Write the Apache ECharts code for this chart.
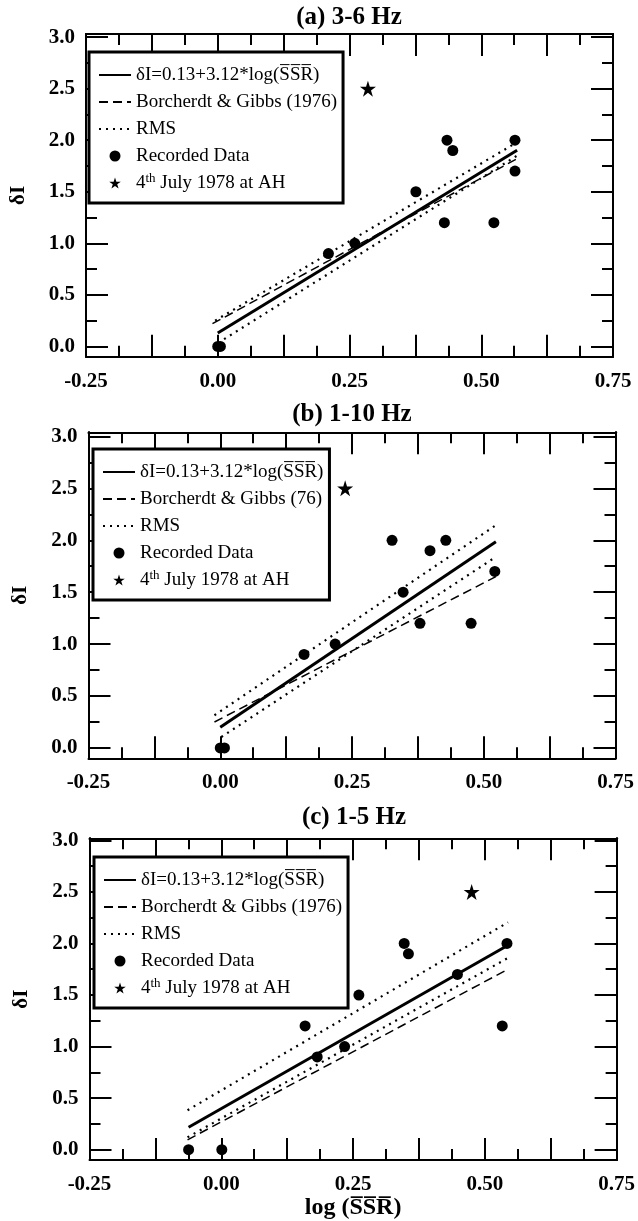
<!DOCTYPE html>
<html>
<head>
<meta charset="utf-8">
<script src="https://cdn.jsdelivr.net/npm/echarts@6/dist/echarts.min.js"></script>
<style>
  html, body { margin: 0; padding: 0; background: #fff; }
  #main { width: 638px; height: 1221px; }
</style>
</head>
<body>
<div id="main"></div>
<script>
// ---- axis ticks ----
const xTickStep = 0.125;
const yMajorTicks = [0, 0.5, 1.0, 1.5, 2.0, 2.5, 3.0];
const yMinorTicks = [0.25, 0.75, 1.25, 1.75, 2.25, 2.75];

// ---- legend / series names ----
const fitName = 'δI=0.13+3.12*log(S\u0305S\u0305R\u0305)';
const bgNameLong = 'Borcherdt & Gibbs (1976)';
const bgNameShort = 'Borcherdt & Gibbs (76)';
const rmsName = 'RMS';
const dataName = 'Recorded Data';
const starName = '4th July 1978 at AH';

// ---- panel titles ----
const titles = ['(a) 3-6 Hz', '(b) 1-10 Hz', '(c) 1-5 Hz'];

// ---- (a) 3-6 Hz ----
const recordedA = [[0, 0], [0.005, 0], [0.21, 0.9], [0.26, 1.0], [0.376, 1.5], [0.435, 2.0],
                   [0.446, 1.9], [0.43, 1.2], [0.524, 1.2], [0.564, 2.0], [0.564, 1.7]];
const starA = [[0.285, 2.5]];
const fitA = [[0, 0.13], [0.568, 0.13 + 3.12 * 0.568]];
const bgA = [[-0.01, 0.22], [0.568, 1.82]];
const rmsUpA = [[-0.005, 0.25], [0.568, 1.98]];
const rmsLoA = [[0.012, 0.07], [0.568, 1.85]];

// ---- (b) 1-10 Hz ----
const recordedB = [[0, 0], [0.008, 0], [0.159, 0.9], [0.218, 1.0], [0.326, 2.0], [0.347, 1.5],
                   [0.398, 1.9], [0.428, 2.0], [0.379, 1.2], [0.476, 1.2], [0.521, 1.7]];
const starB = [[0.237, 2.5]];
const fitB = [[0, 0.2], [0.523, 1.985]];
const bgB = [[-0.011, 0.25], [0.523, 1.65]];
const rmsUpB = [[-0.011, 0.315], [0.523, 2.145]];
const rmsLoB = [[0.002, 0.105], [0.523, 1.84]];

// ---- (c) 1-5 Hz ----
const recordedC = [[-0.062, 0], [0.001, 0], [0.159, 1.2], [0.182, 0.9], [0.234, 1.0], [0.261, 1.5],
                   [0.347, 2.0], [0.355, 1.9], [0.448, 1.7], [0.533, 1.2], [0.542, 2.0]];
const starC = [[0.475, 2.5]];
const fitC = [[-0.062, 0.217], [0.543, 1.98]];
const bgC = [[-0.064, 0.096], [0.544, 1.75]];
const rmsUpC = [[-0.064, 0.383], [0.544, 2.205]];
const rmsLoC = [[-0.064, 0.12], [0.544, 1.86]];

const panels = [
  { recorded: recordedA, star: starA, fit: fitA, bg: bgA, up: rmsUpA, lo: rmsLoA, bgName: bgNameLong },
  { recorded: recordedB, star: starB, fit: fitB, bg: bgB, up: rmsUpB, lo: rmsLoB, bgName: bgNameShort },
  { recorded: recordedC, star: starC, fit: fitC, bg: bgC, up: rmsUpC, lo: rmsLoC, bgName: bgNameLong }
];

// plot boxes
const grids = [
  { left: 85.5, top: 34, width: 527.5, height: 322.7, yMin: -0.1, yMax: 3.03 },
  { left: 88.5, top: 432.3, width: 527, height: 326, yMin: -0.1, yMax: 3.04 },
  { left: 89.5, top: 838.3, width: 528.5, height: 321.7, yMin: -0.1, yMax: 3.02 }
];
const legendPos = [{ left: 89, top: 52 }, { left: 93, top: 449 }, { left: 94, top: 857 }];
const titlePos = [{ x: 349, y: 18 }, { x: 352, y: 415 }, { x: 354, y: 818 }];

const SERIF = '"Liberation Serif", "Times New Roman", serif';
const black = '#000';
const starPath = 'path://M50,0 L61.2,34.5 L97.6,34.5 L68.2,55.9 L79.4,90.5 L50,69.1 L20.6,90.5 L31.8,55.9 L2.4,34.5 L38.8,34.5 Z';

function tickLabelStyle() {
  return { fontFamily: SERIF, fontWeight: 'bold', fontSize: 21, color: black };
}
function blackLine(width) { return { color: black, width: width }; }

function xAxisOption(gi, position) {
  const opt = {
    type: 'value', gridIndex: gi, position: position,
    min: -0.25, max: 0.75, interval: xTickStep,
    splitLine: { show: false },
    axisLine: { show: true, onZero: false, lineStyle: blackLine(2) },
    axisTick: { show: true, inside: true, length: 22, lineStyle: blackLine(2) },
    minorTick: { show: true, splitNumber: 2, length: 11, lineStyle: blackLine(2) }
  };
  if (position === 'bottom') {
    opt.axisLabel = Object.assign({
      margin: 14,
      formatter: function (v) { return Math.abs(v * 4 - Math.round(v * 4)) < 1e-6 ? v.toFixed(2) : ''; }
    }, tickLabelStyle());
  } else {
    opt.axisLabel = { show: false };
  }
  return opt;
}

function yAxisOption(gi, position, major) {
  const g = grids[gi];
  const opt = {
    type: 'value', gridIndex: gi, position: position, min: g.yMin, max: g.yMax,
    splitLine: { show: false },
    axisLine: { show: true, onZero: false, lineStyle: blackLine(2) },
    axisTick: {
      show: true, inside: true, length: major ? 22 : 11,
      customValues: (major ? yMajorTicks : yMinorTicks).slice(), lineStyle: blackLine(2)
    },
    axisLabel: { show: false }
  };
  if (major && position === 'left') {
    opt.axisLabel = Object.assign({
      margin: 11, customValues: yMajorTicks.slice(),
      formatter: function (v) { return v.toFixed(1); }
    }, tickLabelStyle());
    opt.name = 'δI';
    opt.nameLocation = 'middle';
    opt.nameGap = 57;
    opt.nameTextStyle = { fontFamily: SERIF, fontWeight: 'bold', fontSize: 21, color: black };
  }
  return opt;
}

const xAxes = [], yAxes = [], series = [], legends = [], graphics = [];

grids.forEach(function (g, gi) {
  const xb = xAxisOption(gi, 'bottom');
  if (gi === 2) {
    xb.name = 'log (S\u0305S\u0305R\u0305)';
    xb.nameLocation = 'middle';
    xb.nameGap = 27;
    xb.nameTextStyle = { fontFamily: SERIF, fontWeight: 'bold', fontSize: 24, color: black };
  }
  xAxes.push(xb, xAxisOption(gi, 'top'));
  yAxes.push(
    yAxisOption(gi, 'left', true),
    yAxisOption(gi, 'left', false),
    yAxisOption(gi, 'right', true),
    yAxisOption(gi, 'right', false)
  );

  const p = panels[gi];
  const xi = gi * 2, yi = gi * 4;
  function line(name, data, width, dash) {
    const ls = { color: black, width: width };
    if (dash) ls.type = dash;
    return { type: 'line', name: name, xAxisIndex: xi, yAxisIndex: yi, data: data,
             symbol: 'none', silent: true, z: 3, lineStyle: ls };
  }
  series.push(
    line(fitName, p.fit, 3),
    line(p.bgName, p.bg, 1.5, [9, 5]),
    line(rmsName, p.up, 2.2, [2, 5]),
    line(rmsName, p.lo, 2.2, [2, 5]),
    { type: 'scatter', name: dataName, xAxisIndex: xi, yAxisIndex: yi, data: p.recorded,
      symbol: 'circle', symbolSize: 11, itemStyle: { color: black, opacity: 1 }, silent: true, z: 4 },
    { type: 'scatter', name: starName, xAxisIndex: xi, yAxisIndex: yi, data: p.star,
      symbol: starPath, symbolSize: 16, itemStyle: { color: black, opacity: 1 }, silent: true, z: 4 }
  );

  legends.push({
    orient: 'vertical', left: legendPos[gi].left, top: legendPos[gi].top,
    padding: [12, 6, 9, 9], itemGap: 5, itemWidth: 32, itemHeight: 11,
    borderColor: black, borderWidth: 3, backgroundColor: '#fff',
    selectedMode: false, z: 10,
    data: [
      { name: fitName, itemStyle: { opacity: 0 } },
      { name: p.bgName, itemStyle: { opacity: 0 } },
      { name: rmsName, itemStyle: { opacity: 0 } },
      { name: dataName },
      { name: starName }
    ],
    formatter: function (name) {
      return name === starName ? '4{sup|th} July 1978 at AH' : name;
    },
    textStyle: {
      fontFamily: SERIF, fontSize: 19, color: black, lineHeight: 22,
      rich: { sup: { fontFamily: SERIF, fontSize: 13, verticalAlign: 'top', lineHeight: 22 } }
    }
  });

  graphics.push({
    type: 'text', x: titlePos[gi].x, y: titlePos[gi].y, silent: true,
    style: {
      text: titles[gi], fill: black, align: 'center', verticalAlign: 'middle',
      font: 'bold 25px ' + SERIF
    }
  });
});

const chart = echarts.init(document.getElementById('main'), null, { renderer: 'canvas' });
chart.setOption({
  animation: false,
  backgroundColor: '#fff',
  grid: grids.map(function (g) {
    return { left: g.left, top: g.top, width: g.width, height: g.height, show: false, containLabel: false };
  }),
  xAxis: xAxes,
  yAxis: yAxes,
  legend: legends,
  graphic: graphics,
  series: series
});
</script>
</body>
</html>
